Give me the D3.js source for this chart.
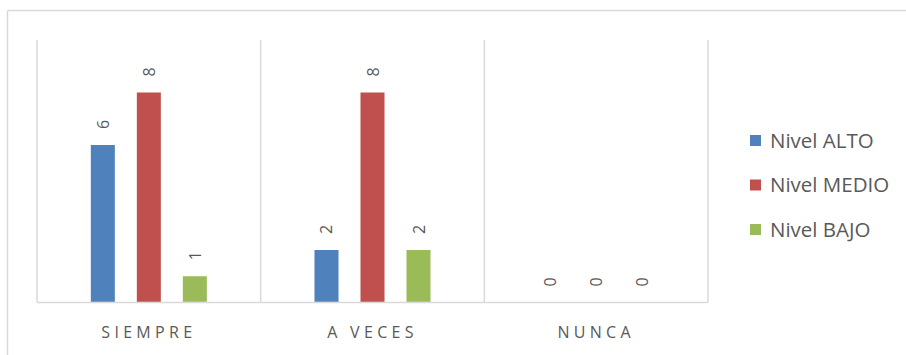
<!DOCTYPE html>
<html>
<head>
<meta charset="utf-8">
<script src="https://cdn.jsdelivr.net/npm/d3@7"></script>
<style>
  html, body { margin: 0; padding: 0; background: #ffffff; }
  svg { display: block; font-family: "Open Sans", Lato, sans-serif; }
</style>
</head>
<body>
<svg id="chart" width="906" height="355"></svg>
<script>
// Chart data
const categories = ["SIEMPRE", "A VECES", "NUNCA"];
const seriesNames = ["Nivel ALTO", "Nivel MEDIO", "Nivel BAJO"];
const nivelAlto = [6, 2, 0];
const nivelMedio = [8, 8, 0];
const nivelBajo = [1, 2, 0];
const seriesColors = ["#4f81bd", "#c0504d", "#9bbb59"];

const seriesValues = [nivelAlto, nivelMedio, nivelBajo];
const rows = categories.map((c, i) => ({
  category: c,
  values: seriesNames.map((s, j) => ({ series: s, value: seriesValues[j][i], color: seriesColors[j] }))
}));

const svg = d3.select("#chart");
const textColor = "#595959";
const gridColor = "#d9d9d9";

// Outer chart frame (top and left edges visible)
svg.append("line").attr("x1", 7.5).attr("x2", 906).attr("y1", 10.5).attr("y2", 10.5)
  .attr("stroke", gridColor).attr("stroke-width", 1.5);
svg.append("line").attr("x1", 7.5).attr("x2", 7.5).attr("y1", 10.5).attr("y2", 355)
  .attr("stroke", gridColor).attr("stroke-width", 1.5);

const plot = { left: 37, right: 708, top: 40, bottom: 302.5 };

const x0 = d3.scaleBand().domain(categories).range([plot.left, plot.right]).padding(0);
const x1 = d3.scaleBand().domain(seriesNames).range([0, x0.bandwidth()])
  .paddingInner(0.478).paddingOuter(1.17);
const y = d3.scaleLinear().domain([0, 10]).range([plot.bottom, plot.top]);

// Category separators
const seps = categories.map(c => x0(c)).concat([x0(categories[categories.length - 1]) + x0.bandwidth()]);
svg.append("g").selectAll("line").data(seps).join("line")
  .attr("x1", d => d).attr("x2", d => d)
  .attr("y1", plot.top).attr("y2", plot.bottom)
  .attr("stroke", gridColor).attr("stroke-width", 1.5);

// Baseline axis
svg.append("line").attr("x1", plot.left).attr("x2", plot.right)
  .attr("y1", plot.bottom).attr("y2", plot.bottom)
  .attr("stroke", gridColor).attr("stroke-width", 1.5);

// Bars
const groups = svg.append("g").selectAll("g").data(rows).join("g")
  .attr("transform", d => `translate(${x0(d.category)},0)`);

groups.selectAll("rect").data(d => d.values).join("rect")
  .attr("x", d => x1(d.series))
  .attr("y", d => y(d.value))
  .attr("width", x1.bandwidth())
  .attr("height", d => plot.bottom - y(d.value) - 0.75)
  .attr("fill", d => d.color);

// Rotated value labels
groups.selectAll("text").data(d => d.values).join("text")
  .attr("transform", d => `translate(${x1(d.series) + x1.bandwidth() / 2 + 6},${y(d.value) - 16}) rotate(-90)`)
  .attr("text-anchor", "start")
  .attr("fill", textColor)
  .attr("font-size", 16)
  .text(d => d.value);

// Category axis labels
const xAxis = d3.axisBottom(x0).tickSize(0).tickPadding(0);
const xg = svg.append("g").attr("transform", `translate(0,${plot.bottom})`).call(xAxis);
xg.select(".domain").remove();
xg.selectAll("text")
  .attr("y", 35)
  .attr("dy", 0)
  .attr("dx", 0)
  .attr("fill", textColor)
  .attr("font-size", 16)
  .attr("font-family", "'Open Sans', Lato, sans-serif")
  .attr("letter-spacing", "4.3px");

// Legend
const legend = svg.append("g").selectAll("g").data(seriesNames).join("g")
  .attr("transform", (d, i) => `translate(750,${135 + i * 44.5})`);
legend.append("rect").attr("width", 11).attr("height", 11)
  .attr("fill", (d, i) => seriesColors[i]);
legend.append("text").attr("x", 20).attr("y", 12.5)
  .attr("fill", textColor).attr("font-size", 20.5)
  .text(d => d);
</script>
</body>
</html>
